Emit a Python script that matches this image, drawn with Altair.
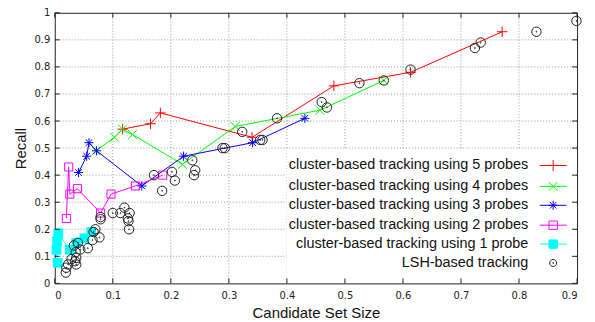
import altair as alt
import pandas as pd

# ---------------- data ----------------
x_ticks = [0, 0.1, 0.2, 0.3, 0.4, 0.5, 0.6, 0.7, 0.8, 0.9]
y_ticks = [0, 0.1, 0.2, 0.3, 0.4, 0.5, 0.6, 0.7, 0.8, 0.9, 1]

names = [
    "cluster-based tracking using 5 probes",
    "cluster-based tracking using 4 probes",
    "cluster-based tracking using 3 probes",
    "cluster-based tracking using 2 probes",
    "cluster-based tracking using 1 probe",
    "LSH-based tracking",
]
colors = ["#ff0000", "#00ff00", "#0000ff", "#ff00ff", "#00ffff", "#222222"]

p5_x = [0.117, 0.165, 0.182, 0.340, 0.481, 0.613, 0.771]
p5_y = [0.57, 0.59, 0.63, 0.54, 0.73, 0.78, 0.93]

p4_x = [0.071, 0.103, 0.117, 0.134, 0.220, 0.311, 0.457, 0.567]
p4_y = [0.49, 0.54, 0.57, 0.55, 0.44, 0.58, 0.64, 0.75]

p3_x = [0.041, 0.055, 0.059, 0.072, 0.150, 0.222, 0.341, 0.431]
p3_y = [0.41, 0.47, 0.52, 0.49, 0.36, 0.47, 0.52, 0.61]

p2_x = [0.020, 0.024, 0.026, 0.039, 0.079, 0.097, 0.139, 0.186]
p2_y = [0.24, 0.43, 0.33, 0.35, 0.26, 0.33, 0.36, 0.40]

p1_x = [0.005, 0.003, 0.004, 0.006, 0.026, 0.037, 0.051, 0.063]
p1_y = [0.076, 0.124, 0.155, 0.185, 0.124, 0.149, 0.167, 0.19]

lsh_x = [0.899, 0.830, 0.734, 0.724, 0.613, 0.567, 0.525, 0.460, 0.469, 0.383,
         0.358, 0.354, 0.323, 0.289, 0.293, 0.237, 0.242, 0.240, 0.202, 0.207,
         0.171, 0.185, 0.100, 0.113, 0.120, 0.129, 0.126, 0.127, 0.128, 0.079,
         0.079, 0.070, 0.067, 0.077, 0.065, 0.057, 0.044, 0.040, 0.033, 0.036,
         0.037, 0.035, 0.029, 0.023, 0.020, 0.019, 0.037]
lsh_y = [0.97, 0.93, 0.89, 0.87, 0.79, 0.75, 0.74, 0.67, 0.65, 0.61,
         0.53, 0.53, 0.56, 0.50, 0.50, 0.455, 0.418, 0.40, 0.412, 0.38,
         0.40, 0.342, 0.26, 0.26, 0.28, 0.26, 0.24, 0.23, 0.20, 0.245,
         0.237, 0.20, 0.19, 0.17, 0.16, 0.13, 0.125, 0.15, 0.14, 0.115,
         0.094, 0.082, 0.09, 0.07, 0.058, 0.04, 0.07]

series_x = [p5_x, p4_x, p3_x, p2_x, p1_x, lsh_x]
series_y = [p5_y, p4_y, p3_y, p2_y, p1_y, lsh_y]

# ---------------- styles ----------------
W, H = 525, 272
FONT = "Liberation Sans"
TICKFONT = "DejaVu Sans"

plus_path = "M-1,0H1M0,-1V1"
x_path = "M-1,-1L1,1M-1,1L1,-1"
star_path = "M-1,0H1M0,-1V1M-0.72,-0.72L0.72,0.72M-0.72,0.72L0.72,-0.72"
circ_path = ("M1,0A1,1,0,1,1,-1,0A1,1,0,1,1,1,0Z"
             "M0.1,0A0.1,0.1,0,1,1,-0.1,0A0.1,0.1,0,1,1,0.1,0Z")
marker_shapes = [plus_path, x_path, star_path, "square", "square", circ_path]
marker_sizes = [110, 80, 85, 66, 95, 90]
marker_filled = [False, False, False, False, True, False]

# legend symbols: a short line segment with the marker, drawn to the right
# of the (right-aligned) label; units are 12 px (symbolSize 576 -> 24 px box)
c = 3.125
LINE = "M2,0H4.25"
def sq(h):
    return f"M{c-h},{-h}H{c+h}V{h}H{c-h}Z"
def circ(r):
    return f"M{c+r},0A{r},{r},0,1,1,{c-r},0A{r},{r},0,1,1,{c+r},0Z"
legend_paths = [
    LINE + f"M{c},-0.46V0.46M{c-0.46},0H{c+0.46}",
    LINE + f"M{c-0.37},-0.37L{c+0.37},0.37M{c-0.37},0.37L{c+0.37},-0.37",
    LINE + f"M{c-0.38},0H{c+0.38}M{c},-0.38V0.38"
           f"M{c-0.27},-0.27L{c+0.27},0.27M{c-0.27},0.27L{c+0.27},-0.27",
    LINE + sq(0.35),
    LINE + sq(0.35),
    circ(0.29) + circ(0.04),
]
legend_fills = ["transparent", "transparent", "transparent", "transparent",
                "#00ffff", "transparent"]

rows = []
for name, xs, ys in zip(names, series_x, series_y):
    for i, (a, b) in enumerate(zip(xs, ys)):
        rows.append({"series": name, "x": a, "y": b, "order": i})
df = pd.DataFrame(rows)

xscale = alt.Scale(domain=[0, 0.9], nice=False, zero=False)
yscale = alt.Scale(domain=[0, 1], nice=False, zero=False)
ax_x = alt.Axis(values=x_ticks, format=".1~f", grid=False, ticks=False,
                domain=False, labelFont=TICKFONT, labelFontSize=10,
                labelColor="#222222", labelPadding=7, titleFont=FONT,
                titleFontSize=15, titleFontWeight="normal", titleColor="#111111",
                titlePadding=5)
ax_y = alt.Axis(values=y_ticks, format=".1~f", grid=False, ticks=False,
                domain=False, labelFont=TICKFONT, labelFontSize=10,
                labelColor="#222222", labelPadding=5, titleFont=FONT,
                titleFontSize=15, titleFontWeight="normal", titleColor="#111111",
                titlePadding=6)


def X(field):
    return alt.X(field, scale=xscale, axis=ax_x, title="Candidate Set Size")


def Y(field):
    return alt.Y(field, scale=yscale, axis=ax_y, title="Recall")


layers = []

# grid
gx = pd.DataFrame({"x": x_ticks[1:-1]})
gy = pd.DataFrame({"y": y_ticks[1:-1]})
layers.append(alt.Chart(gx).mark_rule(color="#9a9a9a", strokeDash=[1, 2],
                                      strokeWidth=1).encode(x=X("x:Q")))
layers.append(alt.Chart(gy).mark_rule(color="#9a9a9a", strokeDash=[1, 2],
                                      strokeWidth=1).encode(y=Y("y:Q")))

# legend box
box = pd.DataFrame({"k": [0]})
layers.append(alt.Chart(box).mark_rect(color="white").encode(
    x=alt.value(233), x2=alt.value(524), y=alt.value(137), y2=alt.value(271)))

# lines
for name, col in zip(names[:5], colors[:5]):
    layers.append(
        alt.Chart(df).transform_filter(alt.datum.series == name)
        .mark_line(color=col, strokeWidth=1)
        .encode(x=X("x:Q"), y=Y("y:Q"), order="order:Q"))

# markers
for name, col, shp, sz, fl in zip(names, colors, marker_shapes, marker_sizes, marker_filled):
    layers.append(
        alt.Chart(df).transform_filter(alt.datum.series == name)
        .mark_point(shape=shp, size=sz, filled=fl, color=col, strokeWidth=1, opacity=1)
        .encode(x=X("x:Q"), y=Y("y:Q")))

# inward ticks on all four sides
tx = pd.DataFrame({"x": x_ticks})
ty = pd.DataFrame({"y": y_ticks})
TK = "#222222"
layers.append(alt.Chart(tx).mark_rule(color=TK, strokeWidth=1).encode(
    x=X("x:Q"), y=alt.value(H), y2=alt.value(H - 5)))
layers.append(alt.Chart(tx).mark_rule(color=TK, strokeWidth=1).encode(
    x=X("x:Q"), y=alt.value(0), y2=alt.value(5)))
layers.append(alt.Chart(ty).mark_rule(color=TK, strokeWidth=1).encode(
    y=Y("y:Q"), x=alt.value(0), x2=alt.value(5)))
layers.append(alt.Chart(ty).mark_rule(color=TK, strokeWidth=1).encode(
    y=Y("y:Q"), x=alt.value(W), x2=alt.value(W - 5)))

# legend (generated by Vega-Lite from the series scales)
leg = alt.Legend(title=None, orient="none", legendX=451, legendY=141,
                 padding=0, labelAlign="right", labelOffset=0,
                 labelFont=FONT, labelFontSize=14.5, labelColor="#111111",
                 labelLimit=400, symbolSize=576, symbolStrokeWidth=1,
                 rowPadding=0)
layers.append(
    alt.Chart(df).transform_filter("false")
    .mark_point(filled=True, size=576, opacity=1, strokeWidth=1)
    .encode(
        x=X("x:Q"), y=Y("y:Q"),
        shape=alt.Shape("series:N", scale=alt.Scale(domain=names, range=legend_paths), legend=leg),
        stroke=alt.Stroke("series:N", scale=alt.Scale(domain=names, range=colors), legend=leg),
        fill=alt.Fill("series:N", scale=alt.Scale(domain=names, range=legend_fills), legend=leg),
    ))

chart = alt.layer(*layers).properties(
    width=W, height=H,
    autosize=alt.AutoSizeParams(type="none"),
    padding={"left": 47, "top": 4, "right": 10, "bottom": 40},
).configure_view(stroke="#222222", strokeWidth=1)

chart.save("out.html", embed_options={"renderer": "svg", "actions": False})
